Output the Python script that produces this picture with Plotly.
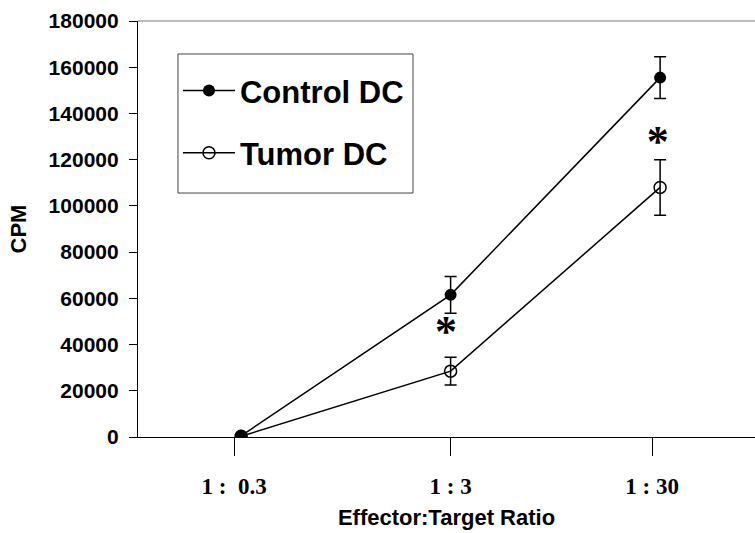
import plotly.graph_objects as go

ratios = [0.3, 3, 30]
tick_positions = [0.278, 3, 27.5]
tick_labels = ["1 :  0.3", "1 : 3", "1 : 30"]
control_cpm = [500, 61500, 155500]
control_err = [300, 8000, 9000]
tumor_cpm = [300, 28500, 108000]
tumor_err = [200, 6000, 12000]
sig_x = [2.85, 29.2]
sig_y = [44000, 126500]

fig = go.Figure()
fig.add_trace(go.Scatter(
    x=ratios, y=control_cpm, name="Control DC", mode="lines+markers",
    line=dict(color="black", width=1.5),
    marker=dict(symbol="circle", size=12, color="black"),
    error_y=dict(type="data", array=control_err, color="black", thickness=1.5, width=6),
    legendgroup="a"))
fig.add_trace(go.Scatter(
    x=ratios, y=tumor_cpm, name="Tumor DC", mode="lines+markers",
    line=dict(color="black", width=1.5),
    marker=dict(symbol="circle-open", size=12, color="black", line=dict(width=1.5)),
    error_y=dict(type="data", array=tumor_err, color="black", thickness=1.5, width=6),
    legendgroup="b"))
fig.add_trace(go.Scatter(
    x=sig_x, y=sig_y, mode="text", text=["*", "*"], showlegend=False,
    textfont=dict(family="Liberation Serif", size=44, color="black", weight="bold"),
    hoverinfo="skip"))

# legend frame and top frame line
fig.add_shape(type="rect", xref="paper", yref="paper",
              x0=0.0648, x1=0.4457, y0=0.5865, y1=0.9207,
              line=dict(color="#444", width=1), fillcolor="rgba(0,0,0,0)", layer="below")
fig.add_shape(type="line", xref="paper", yref="paper", x0=0, x1=1, y0=1, y1=1,
              line=dict(color="#777", width=1.2))

fig.update_layout(
    width=755, height=533,
    margin=dict(l=138, r=0, t=21, b=96),
    plot_bgcolor="white", paper_bgcolor="white",
    showlegend=True,
    legend=dict(x=0.0648, y=0.897, xanchor="left", yanchor="top",
                borderwidth=0, bgcolor="rgba(0,0,0,0)", itemwidth=52,
                font=dict(family="Liberation Sans", size=31, color="black", weight="bold"),
                tracegroupgap=19, traceorder="grouped"),
    xaxis=dict(type="log", range=[-1.015, 1.93],
               tickvals=tick_positions, ticktext=tick_labels,
               ticks="outside", ticklen=18, tickwidth=1.2, tickcolor="black",
               showline=True, linecolor="black", linewidth=1.2,
               showgrid=False, zeroline=False, ticklabelstandoff=10,
               tickfont=dict(family="Liberation Serif", size=23, color="black", weight="bold"),
               title=dict(text="Effector:Target Ratio", standoff=11,
                          font=dict(family="Liberation Sans", size=22, color="black", weight="bold"))),
    yaxis=dict(range=[0, 180000], dtick=20000, tickformat="d",
               ticks="outside", ticklen=8, tickwidth=1.2, tickcolor="black",
               showline=True, linecolor="black", linewidth=1.2,
               showgrid=False, zeroline=False, ticklabelstandoff=6,
               tickfont=dict(family="Liberation Sans", size=21, color="black", weight="bold"),
               title=dict(text="CPM", standoff=15,
                          font=dict(family="Liberation Sans", size=22, color="black", weight="bold"))),
)

fig.write_html("out.html")
